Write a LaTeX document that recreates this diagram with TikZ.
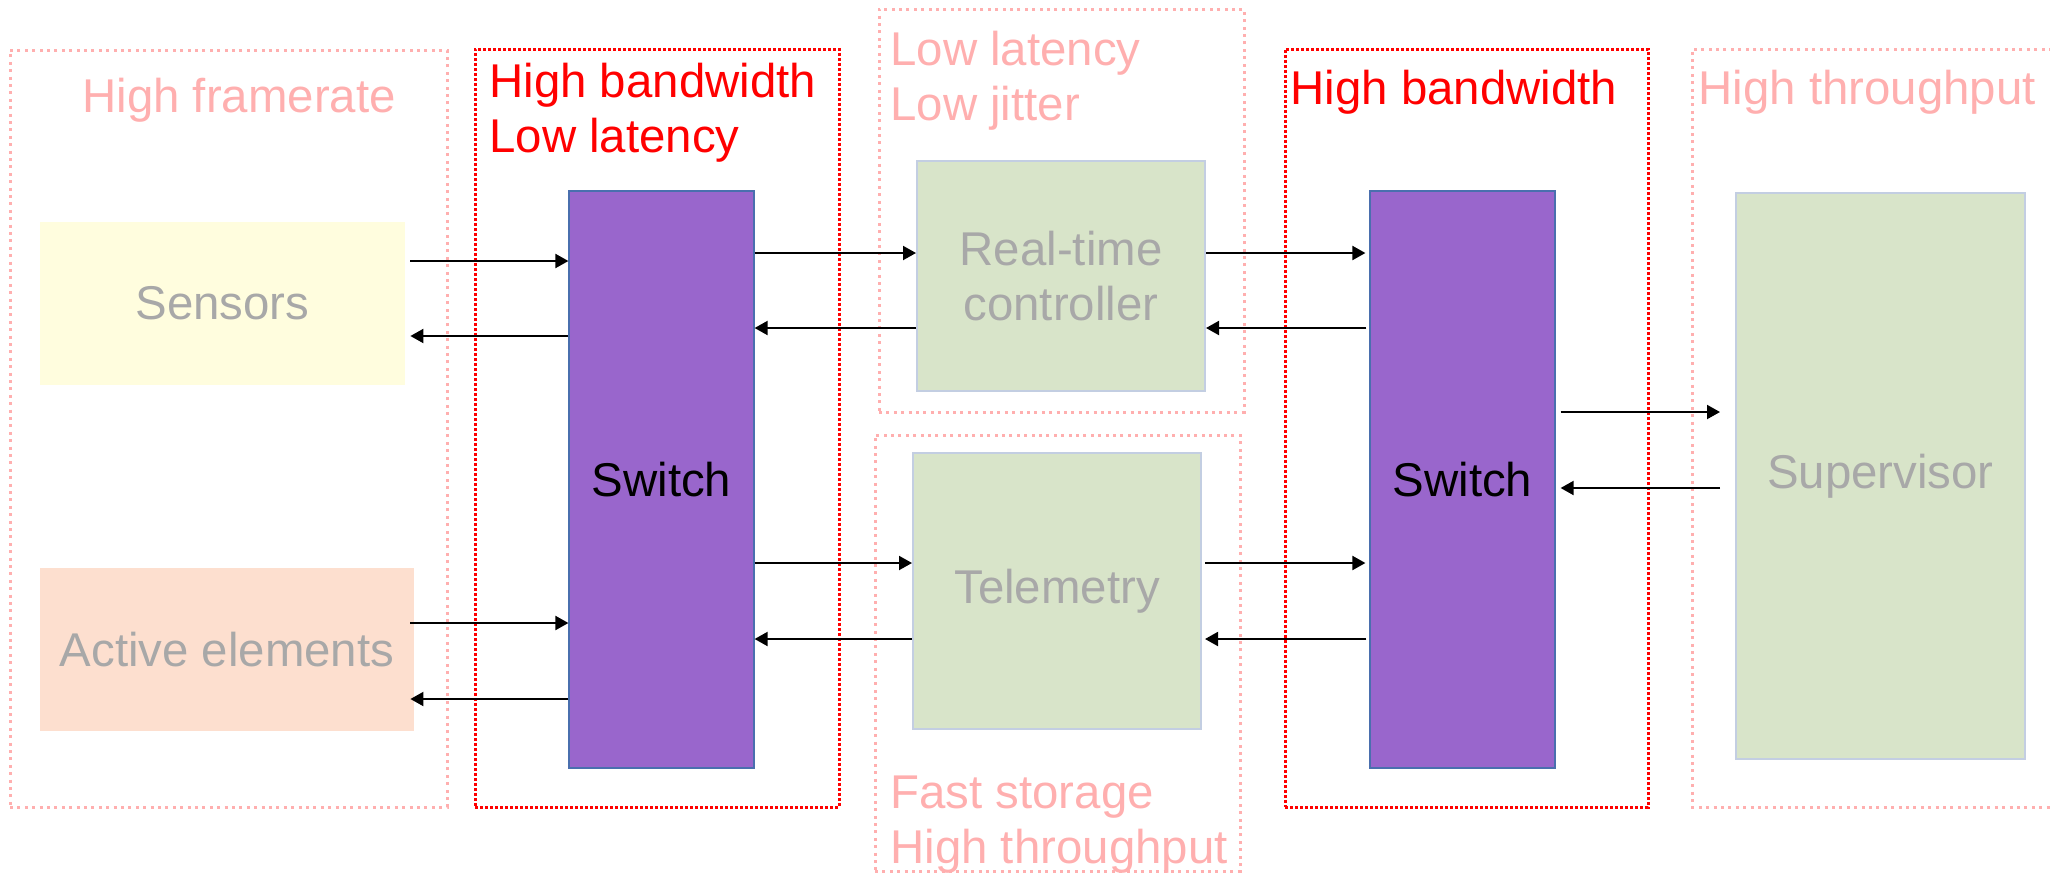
\documentclass[tikz,border=0pt]{standalone}
\usepackage{fontspec}
\setmainfont{Liberation Sans}
\usetikzlibrary{arrows.meta}
\definecolor{pinkc}{HTML}{FFAFAF}
\definecolor{redc}{HTML}{FF0000}
\definecolor{grayt}{HTML}{A8A8A8}
\definecolor{swfill}{HTML}{9966CC}
\definecolor{swline}{HTML}{4A6FAE}
\definecolor{grfill}{HTML}{D8E4C9}
\definecolor{grline}{HTML}{C3CEE2}
\definecolor{yelfill}{HTML}{FFFDDE}
\definecolor{pchfill}{HTML}{FDDFCF}
\tikzset{
  txt/.style={font=\fontsize{23.7}{27.5}\selectfont},
  blk/.style={txt, inner sep=0pt, align=center, text=grayt},
  sw/.style={blk, fill=swfill, draw=swline, line width=0.6pt, text=black, minimum width=92.5pt, minimum height=288.5pt},
  grn/.style={blk, fill=grfill, draw=grline, line width=1pt},
  pinkframe/.style={draw=pinkc, line width=1.5pt, dash pattern=on 1.5pt off 2.2pt, inner sep=0pt},
  redframe/.style={draw=redc, line width=1.5pt, dash pattern=on 1.5pt off 1pt, inner sep=0pt},
  lab/.style={txt, inner sep=0pt, anchor=base west},
  arr/.style={line width=1pt, -{Triangle[length=6.5pt,width=7pt]}}
}
\begin{document}
\begin{tikzpicture}[x=0.5pt,y=-0.5pt]
\useasboundingbox (0,0) rectangle (2050,874);

% group frames
\node[pinkframe, minimum width=218.5pt, minimum height=378.5pt] (g1) at (228.5,428.5) {};
\node[redframe, minimum width=182pt, minimum height=379pt] (g2) at (657,428) {};
\node[pinkframe, minimum width=182.5pt, minimum height=201.5pt] (g3) at (1061.5,210.5) {};
\node[pinkframe, minimum width=182.5pt, minimum height=218pt] (g6) at (1057.5,653) {};
\node[redframe, minimum width=181.5pt, minimum height=379pt] (g4) at (1466.5,428) {};
\coordinate (g5a) at (2052,49);
\coordinate (g5b) at (1692,49);
\coordinate (g5c) at (1692,807);
\coordinate (g5d) at (2052,807);
\draw[pinkframe] (g5a) -- (g5b) -- (g5c) -- (g5d);

% labels
\node[lab, text=pinkc] (l1) at (82,112) {High framerate};
\node[lab, text=redc] (l2) at (489,97) {\begin{tabular}[t]{@{}l@{}}High bandwidth\\Low latency\end{tabular}};
\node[lab, text=pinkc] (l3) at (890,65) {\begin{tabular}[t]{@{}l@{}}Low latency\\Low jitter\end{tabular}};
\node[lab, text=redc] (l4) at (1290,104) {High bandwidth};
\node[lab, text=pinkc] (l5) at (1698,104) {High throughput};
\node[lab, text=pinkc] (l6) at (890,808) {\begin{tabular}[t]{@{}l@{}}Fast storage\\High throughput\end{tabular}};

% blocks
\node[blk, fill=yelfill, minimum width=182.5pt, minimum height=81.5pt] (sensors) at (222.5,303.5) {Sensors};
\node[blk, fill=pchfill, minimum width=187pt, minimum height=81.5pt] (active) at (227,649.5) {Active elements};
\node[sw] (sw1) at (661.5,479.5) {Switch};
\node[grn, minimum width=144pt, minimum height=115pt] (rtc) at (1061,276) {Real-time\\controller};
\node[grn, minimum width=144pt, minimum height=138pt] (tel) at (1057,591) {Telemetry};
\node[sw] (sw2) at (1462.5,479.5) {Switch};
\node[grn, minimum width=144.5pt, minimum height=283pt] (sup) at (1880.5,476) {Supervisor};

% connectors
\draw[arr, shorten <=2.5pt] (sensors.east |- 0,261) -- (sw1.west |- 0,261);
\draw[arr, shorten >=2.5pt] (sw1.west |- 0,336) -- (sensors.east |- 0,336);
\draw[arr, shorten <=-2pt] (active.east |- 0,623) -- (sw1.west |- 0,623);
\draw[arr, shorten >=-2pt] (sw1.west |- 0,699) -- (active.east |- 0,699);

\draw[arr] (sw1.east |- 0,253) -- (rtc.west |- 0,253);
\draw[arr] (rtc.west |- 0,328) -- (sw1.east |- 0,328);
\draw[arr] (sw1.east |- 0,563) -- (tel.west |- 0,563);
\draw[arr] (tel.west |- 0,639) -- (sw1.east |- 0,639);

\draw[arr, shorten >=2pt] (rtc.east |- 0,253) -- (sw2.west |- 0,253);
\draw[arr, shorten <=1.5pt] (sw2.west |- 0,328) -- (rtc.east |- 0,328);
\draw[arr, shorten <=1.5pt, shorten >=2pt] (tel.east |- 0,563) -- (sw2.west |- 0,563);
\draw[arr, shorten <=1.5pt, shorten >=1.5pt] (sw2.west |- 0,639) -- (tel.east |- 0,639);

\draw[arr, shorten <=2.5pt, shorten >=7.5pt] (sw2.east |- 0,412) -- (sup.west |- 0,412);
\draw[arr, shorten <=7.5pt, shorten >=2.5pt] (sup.west |- 0,488) -- (sw2.east |- 0,488);
\end{tikzpicture}
\end{document}
